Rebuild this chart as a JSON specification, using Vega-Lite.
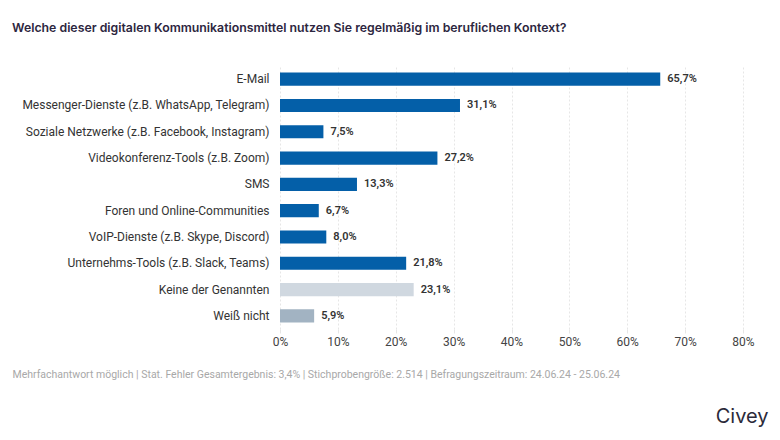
{
  "$schema": "https://vega.github.io/schema/vega-lite/v6.json",
  "autosize": "none",
  "width": 463,
  "height": 263,
  "padding": {"left": 280, "top": 66, "right": 37, "bottom": 111},
  "background": "#ffffff",
  "config": {
    "locale": {"number": {"decimal": ",", "thousands": ".", "grouping": [3], "currency": ["", " €"]}},
    "view": {"stroke": null},
    "font": "Roboto"
  },
  "title": {
    "text": "Welche dieser digitalen Kommunikationsmittel nutzen Sie regelmäßig im beruflichen Kontext?",
    "anchor": "start",
    "frame": "group",
    "dx": -268,
    "offset": 32,
    "font": "Inter",
    "fontSize": 12.3,
    "fontWeight": 600,
    "color": "#2d2640"
  },
  "data": {
    "values": [
      {"answer": "E-Mail", "share": 0.657, "group": "Antwort"},
      {"answer": "Messenger-Dienste (z.B. WhatsApp, Telegram)", "share": 0.311, "group": "Antwort"},
      {"answer": "Soziale Netzwerke (z.B. Facebook, Instagram)", "share": 0.075, "group": "Antwort"},
      {"answer": "Videokonferenz-Tools (z.B. Zoom)", "share": 0.272, "group": "Antwort"},
      {"answer": "SMS", "share": 0.133, "group": "Antwort"},
      {"answer": "Foren und Online-Communities", "share": 0.067, "group": "Antwort"},
      {"answer": "VoIP-Dienste (z.B. Skype, Discord)", "share": 0.08, "group": "Antwort"},
      {"answer": "Unternehms-Tools (z.B. Slack, Teams)", "share": 0.218, "group": "Antwort"},
      {"answer": "Keine der Genannten", "share": 0.231, "group": "Keine"},
      {"answer": "Weiß nicht", "share": 0.059, "group": "Weißnicht"}
    ]
  },
  "encoding": {
    "y": {
      "field": "answer",
      "type": "nominal",
      "sort": null,
      "scale": {"paddingInner": 0.5, "paddingOuter": 0.25},
      "axis": {
        "title": "Civey",
        "titleAngle": 0,
        "titleX": 488,
        "titleY": 350,
        "titleAlign": "right",
        "titleBaseline": "middle",
        "titleFont": "Inter",
        "titleFontSize": 20,
        "titleFontWeight": 400,
        "titleColor": "#2b2a3a",
        "labelFont": "Roboto",
        "labelFontSize": 12,
        "labelColor": "#333333",
        "labelPadding": 11,
        "labelLimit": 300,
        "ticks": false,
        "domain": false,
        "grid": false
      }
    },
    "x": {
      "field": "share",
      "type": "quantitative",
      "scale": {"domain": [0, 0.8], "nice": false},
      "axis": {
        "values": [0, 0.1, 0.2, 0.3, 0.4, 0.5, 0.6, 0.7, 0.8],
        "format": ".0%",
        "labelFlush": false,
        "title": "Mehrfachantwort möglich | Stat. Fehler Gesamtergebnis: 3,4% | Stichprobengröße: 2.514 | Befragungszeitraum: 24.06.24 - 25.06.24",
        "titleX": -268,
        "titleY": 45,
        "titleAlign": "left",
        "titleBaseline": "middle",
        "titleFont": "Roboto",
        "titleFontSize": 10.5,
        "titleFontWeight": 400,
        "titleColor": "#a8a8a8",
        "labelFont": "Roboto",
        "labelFontSize": 12,
        "labelColor": "#444444",
        "labelPadding": 3,
        "domain": false,
        "ticks": true,
        "tickSize": 4,
        "tickColor": "#e6e6e6",
        "grid": true,
        "gridColor": "#e6e6e6",
        "gridDash": [2, 2]
      }
    }
  },
  "layer": [
    {
      "mark": {"type": "bar"},
      "encoding": {
        "color": {
          "field": "group",
          "type": "nominal",
          "scale": {"domain": ["Antwort", "Keine", "Weißnicht"], "range": ["#045fa8", "#d0d8e0", "#a2b3c2"]},
          "legend": null
        }
      }
    },
    {
      "mark": {"type": "text", "align": "left", "baseline": "middle", "dx": 7, "font": "Roboto", "fontSize": 11, "fontWeight": 600, "color": "#333333"},
      "encoding": {
        "text": {"field": "share", "type": "quantitative", "format": ".1%"}
      }
    }
  ]
}
